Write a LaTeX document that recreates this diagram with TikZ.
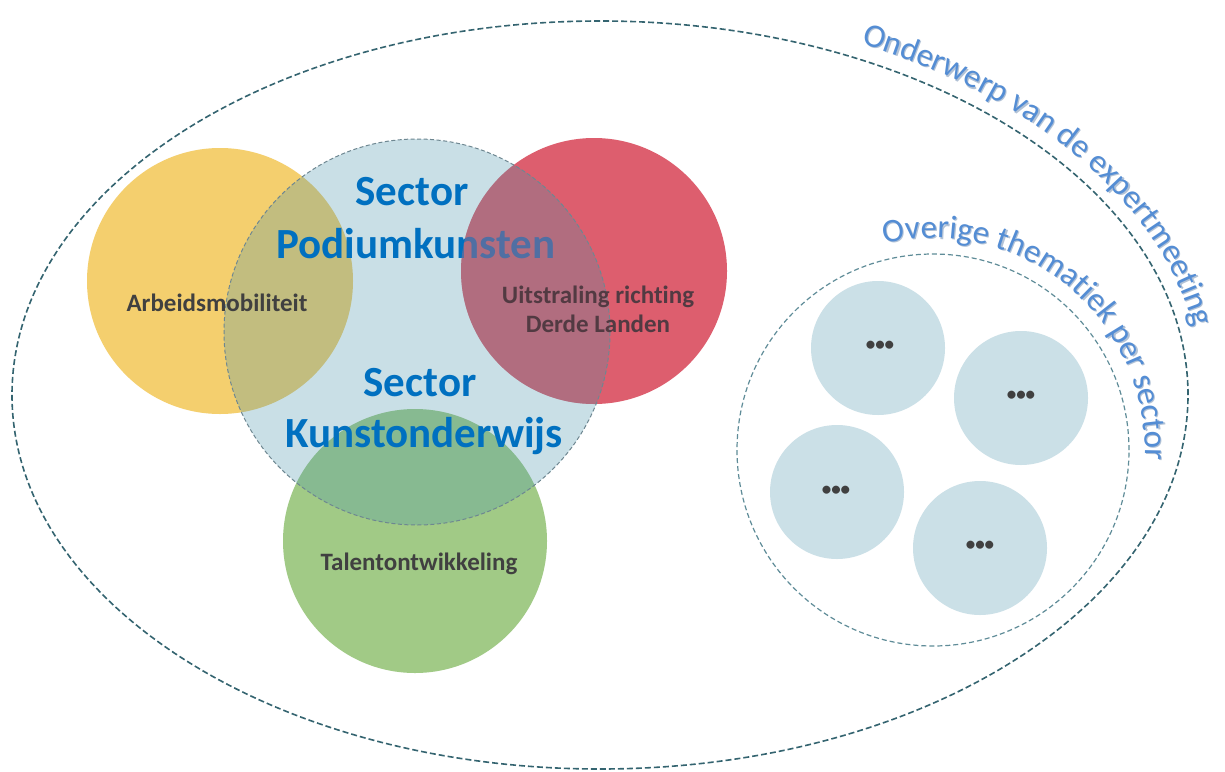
\documentclass[tikz,border=0pt]{standalone}
\usepackage{fontspec}
\setmainfont{Carlito}[Ligatures=NoCommon]
\usetikzlibrary{decorations.text}
\definecolor{sectorblue}{RGB}{0,112,192}
\definecolor{arctext}{RGB}{84,141,212}
\definecolor{arcshadow}{RGB}{178,194,214}
\definecolor{outerdash}{RGB}{52,100,112}
\definecolor{innerdash}{RGB}{95,140,152}
\definecolor{ringdash}{RGB}{110,135,145}
\definecolor{goldfill}{RGB}{244,207,110}
\definecolor{redfill}{RGB}{221,94,110}
\definecolor{greenfill}{RGB}{161,202,134}
\definecolor{bluebase}{RGB}{72,148,172}
\definecolor{mauve}{RGB}{178,110,128}
\definecolor{smallfill}{RGB}{203,224,231}
\definecolor{labelgray}{RGB}{64,64,64}
\definecolor{redlabel}{RGB}{82,58,66}
\tikzset{
  bigtext/.style={text=sectorblue, font=\bfseries\fontsize{43}{43}\selectfont, anchor=base, inner sep=0pt},
  labeltext/.style={text=labelgray, font=\bfseries\fontsize{25}{25}\selectfont, anchor=base, inner sep=0pt},
  dotstext/.style={text=labelgray, font=\bfseries\fontsize{19}{19}\selectfont, inner sep=0pt},
  smallcircle/.style={fill=smallfill}
}
\begin{document}
\begin{tikzpicture}[x=1pt,y=1pt]
\useasboundingbox (0,0) rectangle (1225,-771);
\fill[white] (0,0) rectangle (1225,-771);

% outer ellipse
\draw[outerdash, line width=1.6pt, dash pattern=on 6pt off 3pt] (600,-395) ellipse[x radius=588, y radius=374];

% coloured circles
\fill[goldfill] (220,-281) circle[radius=133];
\fill[greenfill] (415,-541) circle[radius=132];
\fill[redfill] (594,-271) circle[radius=133];
\fill[bluebase, fill opacity=0.29] (417,-332) circle[radius=193];

% Sector Podiumkunsten
\node[bigtext] (s1) at (412,-205) {Sector};
\node[bigtext] (pk) at (416,-258) {Podiumkunsten};
\begin{scope}
  \clip (594,-271) circle[radius=133];
  \fill[mauve, fill opacity=0.45] (417,-332) circle[radius=193];
\end{scope}
\draw[ringdash, line width=1pt, dash pattern=on 4pt off 2.5pt] (417,-332) circle[radius=193];

\node[bigtext] (s2) at (420,-396) {Sector};
\node[bigtext] (ko) at (424,-447) {Kunstonderwijs};

% labels
\node[labeltext] (arb) at (217,-311) {Arbeidsmobiliteit};
\node[labeltext, text=redlabel] (uit1) at (598,-303) {Uitstraling richting};
\node[labeltext, text=redlabel] (uit2) at (598,-332) {Derde Landen};
\node[labeltext] (tal) at (419,-570) {Talentontwikkeling};

% inner group
\draw[innerdash, line width=1.2pt, dash pattern=on 5pt off 3pt] (933,-450) circle[radius=196];
\fill[smallcircle] (878,-348) circle[radius=67];
\fill[smallcircle] (1021,-398) circle[radius=67];
\fill[smallcircle] (837,-492) circle[radius=67];
\fill[smallcircle] (980,-548) circle[radius=67];
\node[dotstext] (d1) at (880,-346) {•••};
\node[dotstext] (d2) at (1021,-396) {•••};
\node[dotstext] (d3) at (836,-491) {•••};
\node[dotstext] (d4) at (980,-546) {•••};

% curved texts (soft shadow, then text)
\path[decorate, decoration={text along path, text align=center,
  text={|\fontsize{33}{33}\selectfont\color{arcshadow}|Onderwerp van de expertmeeting}}]
  (601.2,-396.2) ++(64:603 and 390) arc[start angle=64, end angle=10.5, x radius=603, y radius=390];
\path[decorate, decoration={text along path, text align=center,
  text={|\fontsize{33}{33}\selectfont\color{arctext}|Onderwerp van de expertmeeting}}]
  (600,-395) ++(64:603 and 390) arc[start angle=64, end angle=10.5, x radius=603, y radius=390];

\path[decorate, decoration={text along path, text align=center,
  text={|\fontsize{33}{33}\selectfont\color{arcshadow}|Overige thematiek per sector}}]
  (934.2,-451.2) ++(104:212) arc[start angle=104, end angle=-3.5, radius=212];
\path[decorate, decoration={text along path, text align=center,
  text={|\fontsize{33}{33}\selectfont\color{arctext}|Overige thematiek per sector}}]
  (933,-450) ++(104:212) arc[start angle=104, end angle=-3.5, radius=212];
\end{tikzpicture}
\end{document}
